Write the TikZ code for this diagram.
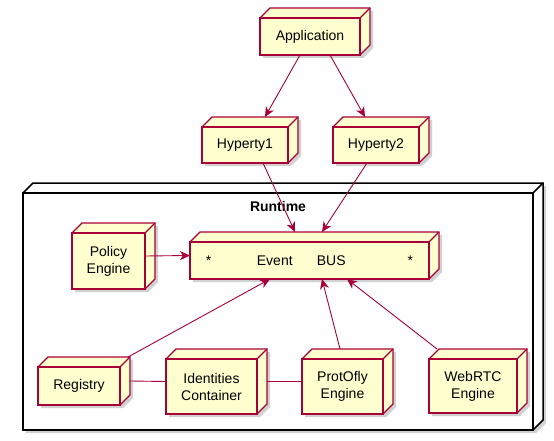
\documentclass[tikz,border=0pt]{standalone}
\usepackage{fontspec}
\setmainfont{Liberation Sans}
\usetikzlibrary{arrows.meta,calc}
\definecolor{nfill}{HTML}{FEFECE}
\definecolor{nline}{HTML}{A80036}
\tikzset{
 dbox/.style={draw=nline, fill=nfill, line width=1.1pt, line join=miter},
 rbox/.style={draw=black, fill=white, line width=1.5pt, line join=miter},
 shad/.style={fill=black!18},
 ntext/.style={font=\fontsize{14}{17}\selectfont, align=center, text=black},
 conn/.style={draw=nline, line width=0.9pt},
 arr/.style={conn, -{Stealth[length=10pt,width=9pt,inset=3pt]}},
}
\newcommand{\dnode}[7][dbox]{%
 \fill[shad] (#3+3,#4+3) -- (#3+13,#4-7) -- (#3+#5+13,#4-7) -- (#3+#5+13,#4+#6-7) -- (#3+#5+3,#4+#6+3) -- (#3+3,#4+#6+3) -- cycle;
 \path[#1] (#3,#4) -- (#3+10,#4-10) -- (#3+#5+10,#4-10) -- (#3+#5+10,#4+#6-10) -- (#3+#5,#4+#6) -- (#3,#4+#6) -- cycle;
 \node[#1, ntext, inner sep=0pt, outer sep=0pt, minimum width=#5pt, minimum height=#6pt, anchor=north west] (#2) at (#3,#4) {#7};
 \draw[#1, fill=none] (#2.north east) -- ++(10,-10);
}
\begin{document}
\begin{tikzpicture}[x=1pt,y=-1pt]
\useasboundingbox (0,0) rectangle (554,441);
\dnode[rbox]{rt}{23}{193}{510}{237}{}
\node[ntext, font=\fontsize{14}{17}\selectfont\bfseries] (rtl) at (278,206) {Runtime};
\dnode{app}{260}{18}{100}{37}{Application}
\dnode{h1}{202}{127}{86}{36}{Hyperty1}
\dnode{h2}{333}{127}{86}{36}{Hyperty2}
\dnode{pol}{72}{233}{73}{56}{Policy\\Engine}
\dnode{bus}{190}{242}{239}{37}{*\hspace{45.6pt}Event\hspace{24.2pt}BUS\hspace{62pt}*}
\dnode{reg}{38}{367}{82}{38}{Registry}
\dnode{iden}{166}{359}{91}{55}{Identities\\Container}
\dnode{prot}{302}{359}{81}{55}{ProtOfly\\Engine}
\dnode{web}{429}{359}{88}{54}{WebRTC\\Engine}
\draw[arr] ([xshift=-10pt]app.south) -- ([shift={(20pt,10pt)}]h1.north);
\draw[arr] ([xshift=20pt]app.south) -- ([shift={(-11pt,10pt)}]h2.north);
\draw[arr] ([xshift=18pt]h1.south) -- ([shift={(-14.5pt,10pt)}]bus.north);
\draw[arr] ([xshift=-9pt]h2.south) -- ([shift={(12.5pt,10pt)}]bus.north);
\draw[arr] ([yshift=5pt]pol.east) -- ([yshift=5pt]bus.west);
\draw[arr] ([shift={(8pt,10pt)}]reg.north east) -- ([xshift=-39.5pt]bus.south);
\draw[arr] ([shift={(-2.5pt,10pt)}]prot.north) -- ([xshift=12.5pt]bus.south);
\draw[arr] ([shift={(-36pt,10pt)}]web.north) -- ([xshift=37.5pt]bus.south);
\draw[conn] ([shift={(10pt,5pt)}]reg.east) -- ([yshift=5pt]iden.west);
\draw[conn] ([shift={(10pt,5pt)}]iden.east) -- ([yshift=5pt]prot.west);
\end{tikzpicture}
\end{document}
